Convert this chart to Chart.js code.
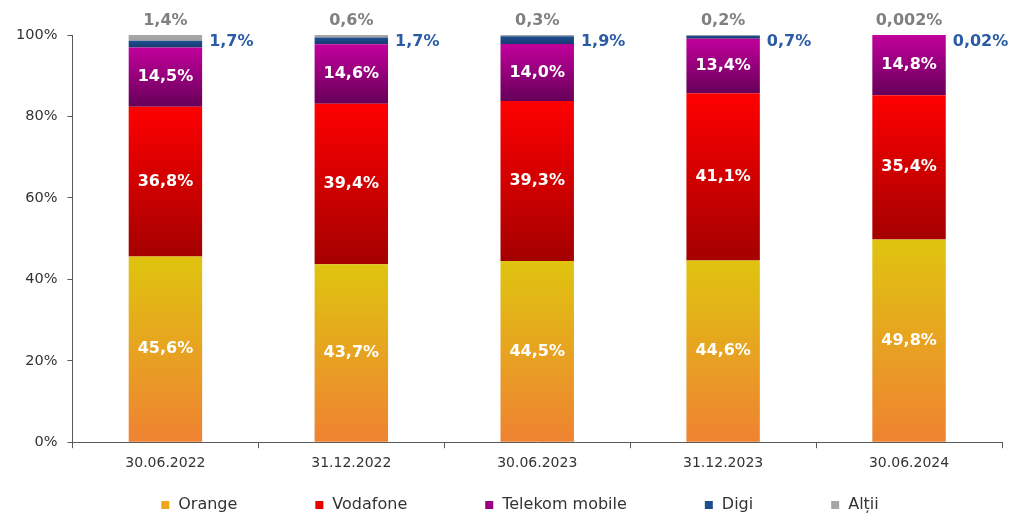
<!DOCTYPE html>
<html>
<head>
<meta charset="utf-8">
<script src="https://cdn.jsdelivr.net/npm/chart.js@4.4.1/dist/chart.umd.min.js"></script>
<style>
  html, body { margin: 0; padding: 0; background: #fff; }
</style>
</head>
<body>
<canvas id="chart" width="1014" height="521"></canvas>
<script>
// market shares (%)
const periods  = ['30.06.2022', '31.12.2022', '30.06.2023', '31.12.2023', '30.06.2024'];
const orange   = [45.6, 43.7, 44.5, 44.6, 49.8];
const vodafone = [36.8, 39.4, 39.3, 41.1, 35.4];
const telekom  = [14.5, 14.6, 14.0, 13.4, 14.8];
const digi     = [1.7, 1.7, 1.9, 0.7, 0.02];
const altii    = [1.4, 0.6, 0.3, 0.2, 0.002];
const yTicks   = [0, 20, 40, 60, 80, 100];

const seriesNames = ['Orange', 'Vodafone', 'Telekom mobile', 'Digi', 'Alții'];
const seriesData  = [orange, vodafone, telekom, digi, altii];

// look of each series: gradient top -> bottom, legend swatch, where the label goes
const styles = [
  { top: '#dfc40f', bottom: '#ef8232', swatch: '#eca81a', pos: 'inside' },
  { top: '#ff0000', bottom: '#a40000', swatch: '#e60000', pos: 'inside' },
  { top: '#c2009c', bottom: '#660058', swatch: '#9a0080', pos: 'inside' },
  { top: '#1f4f92', bottom: '#163a70', swatch: '#1f4e8c', pos: 'right', text: '#2a5ca6' },
  { top: '#a8a8a8', bottom: '#a0a0a0', swatch: '#a6a6a6', pos: 'above', text: '#808080' }
];

const FONT = '"DejaVu Sans", Verdana, sans-serif';
const axisColor = '#595959';
const textColor = '#333333';

function fmt(v) {
  const s = (v % 1 === 0) ? v.toFixed(1) : String(v);
  return s.replace('.', ',') + '%';
}

// vertical gradient spanning each stacked segment
function barFill(ctx) {
  const chart = ctx.chart;
  const st = styles[ctx.datasetIndex];
  const y = chart.scales.y;
  if (ctx.type !== 'data' || !chart.chartArea || !y) return st.swatch;
  let start = 0;
  for (let d = 0; d < ctx.datasetIndex; d++) start += seriesData[d][ctx.dataIndex];
  const end = start + seriesData[ctx.datasetIndex][ctx.dataIndex];
  const y0 = y.getPixelForValue(end), y1 = y.getPixelForValue(start);
  if (!isFinite(y0) || !isFinite(y1) || y1 - y0 < 0.5) return st.top;
  const g = chart.ctx.createLinearGradient(0, y0, 0, y1);
  g.addColorStop(0, st.top);
  g.addColorStop(1, st.bottom);
  return g;
}

const segLabels = {
  id: 'segLabels',
  afterDatasetsDraw(chart) {
    const c = chart.ctx, y = chart.scales.y;
    c.save();
    c.font = 'bold 16px ' + FONT;
    c.textBaseline = 'middle';
    chart.data.datasets.forEach((ds, di) => {
      const st = styles[di];
      chart.getDatasetMeta(di).data.forEach((bar, i) => {
        const txt = fmt(ds.data[i]);
        if (st.pos === 'inside') {
          c.fillStyle = '#ffffff';
          c.textAlign = 'center';
          c.fillText(txt, bar.x, (bar.y + bar.base) / 2);
        } else if (st.pos === 'right') {
          c.fillStyle = st.text;
          c.textAlign = 'left';
          c.fillText(txt, bar.x + bar.width / 2 + 7, y.getPixelForValue(100) + 7);
        } else {
          c.fillStyle = st.text;
          c.textAlign = 'center';
          c.fillText(txt, bar.x, y.getPixelForValue(100) - 14);
        }
      });
    });
    c.restore();
  }
};

// legend drawn by hand: Chart.js ties the item gap to the row height
const bottomLegend = {
  id: 'bottomLegend',
  afterDraw(chart) {
    const c = chart.ctx;
    const gap = 78, box = 8, boxGap = 9, yMid = 505;
    c.save();
    c.font = '16px ' + FONT;
    c.textBaseline = 'middle';
    c.textAlign = 'left';
    const names = chart.data.datasets.map(d => d.label);
    const widths = names.map(n => box + boxGap + c.measureText(n).width);
    const total = widths.reduce((a, b) => a + b, 0) + gap * (widths.length - 1);
    let x = chart.width / 2 + 13 - total / 2;
    names.forEach((n, i) => {
      c.fillStyle = styles[i].swatch;
      c.fillRect(x, yMid - box / 2, box, box);
      c.fillStyle = textColor;
      c.fillText(n, x + box + boxGap, yMid);
      x += widths[i] + gap;
    });
    c.restore();
  }
};

new Chart(document.getElementById('chart'), {
  type: 'bar',
  data: {
    labels: periods,
    datasets: seriesNames.map((name, i) => ({
      label: name,
      data: seriesData[i],
      backgroundColor: barFill,
      borderWidth: 0,
      categoryPercentage: 1,
      barPercentage: 0.395
    }))
  },
  options: {
    responsive: false,
    animation: false,
    devicePixelRatio: 1,
    layout: { padding: { top: 35, right: 12, bottom: 42, left: 6 } },
    plugins: {
      legend: { display: false },
      tooltip: { enabled: false }
    },
    scales: {
      x: {
        stacked: true,
        grid: { drawOnChartArea: false, tickLength: 6, color: axisColor, offset: true },
        border: { color: axisColor },
        ticks: { color: textColor, font: { family: FONT, size: 14 }, padding: 7 }
      },
      y: {
        stacked: true,
        min: 0,
        max: 100,
        afterBuildTicks: axis => { axis.ticks = yTicks.map(v => ({ value: v })); },
        grid: { drawOnChartArea: false, tickLength: 5, color: axisColor },
        border: { color: axisColor },
        ticks: { color: textColor, font: { family: FONT, size: 14.5 }, padding: 10,
                 callback: v => v + '%' }
      }
    }
  },
  plugins: [segLabels, bottomLegend]
});
</script>
</body>
</html>
